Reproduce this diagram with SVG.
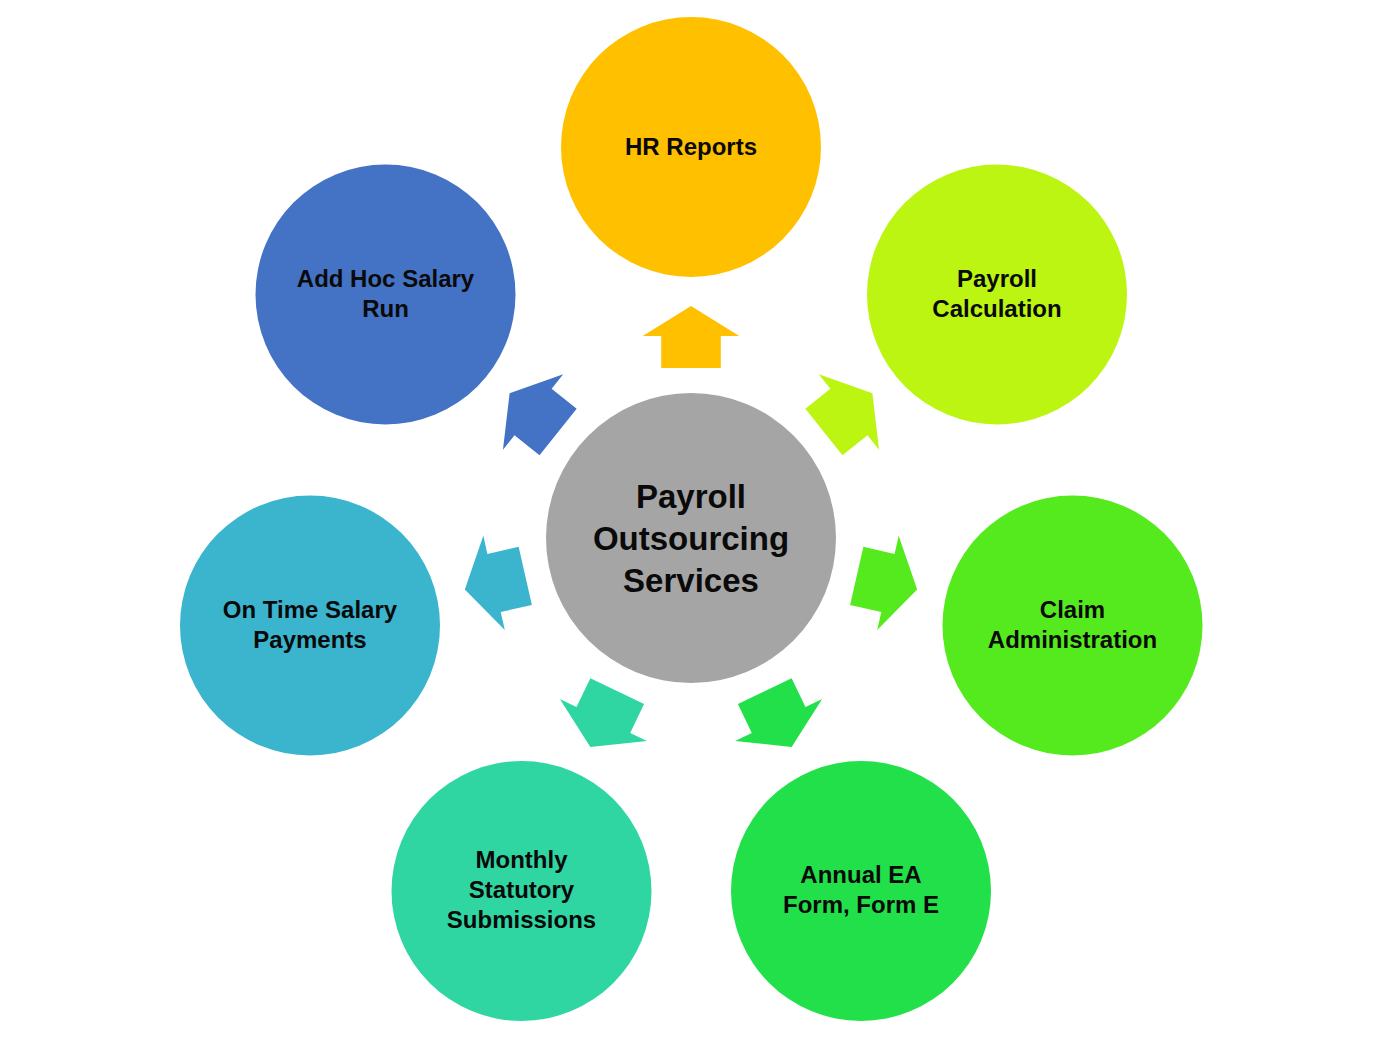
<svg xmlns="http://www.w3.org/2000/svg" width="1387" height="1040" viewBox="0 0 1387 1040">
<style>
  .lbl { font-family: "Liberation Sans", Arial, sans-serif; font-weight: bold; font-size: 24px; fill: #0a0a0a; text-anchor: middle; }
  .ctr { font-family: "Liberation Sans", Arial, sans-serif; font-weight: bold; font-size: 33px; fill: #0a0a0a; text-anchor: middle; }
</style>
<defs>
  <polygon id="arrow" points="0,-232 48.3,-202 29.8,-202 29.8,-170 -29.8,-170 -29.8,-202 -48.3,-202"/>
</defs>
<rect width="1387" height="1040" fill="#ffffff"/>
<g id="connectors">
  <use href="#arrow" transform="translate(691,538) rotate(0)" fill="#FFC000"/>
  <use href="#arrow" transform="translate(691,538) rotate(51.4286)" fill="#BBF511"/>
  <use href="#arrow" transform="translate(691,538) rotate(102.857)" fill="#55EA1E"/>
  <use href="#arrow" transform="translate(691,538) rotate(154.286)" fill="#22E04A"/>
  <use href="#arrow" transform="translate(691,538) rotate(205.714)" fill="#30D6A2"/>
  <use href="#arrow" transform="translate(691,538) rotate(257.143)" fill="#3BB4CE"/>
  <use href="#arrow" transform="translate(691,538) rotate(308.571)" fill="#4472C4"/>
</g>
<g id="center">
  <circle cx="691" cy="538" r="145" fill="#A5A5A5"/>
  <text class="ctr" x="691" y="508">Payroll</text>
  <text class="ctr" x="691" y="550">Outsourcing</text>
  <text class="ctr" x="691" y="592">Services</text>
</g>
<g id="hr-reports">
  <circle cx="691" cy="147" r="130" fill="#FFC000"/>
  <text class="lbl" x="691" y="155">HR Reports</text>
</g>
<g id="payroll-calculation">
  <circle cx="997" cy="294.5" r="130" fill="#BBF511"/>
  <text class="lbl" x="997" y="287">Payroll</text>
  <text class="lbl" x="997" y="317">Calculation</text>
</g>
<g id="claim-administration">
  <circle cx="1072.5" cy="625.5" r="130" fill="#55EA1E"/>
  <text class="lbl" x="1072.5" y="618">Claim</text>
  <text class="lbl" x="1072.5" y="648">Administration</text>
</g>
<g id="annual-ea">
  <circle cx="861" cy="891" r="130" fill="#22E04A"/>
  <text class="lbl" x="861" y="883">Annual EA</text>
  <text class="lbl" x="861" y="913">Form, Form E</text>
</g>
<g id="monthly-statutory">
  <circle cx="521.5" cy="891" r="130" fill="#30D6A2"/>
  <text class="lbl" x="521.5" y="868">Monthly</text>
  <text class="lbl" x="521.5" y="898">Statutory</text>
  <text class="lbl" x="521.5" y="928">Submissions</text>
</g>
<g id="on-time-salary">
  <circle cx="310" cy="625.5" r="130" fill="#3BB4CE"/>
  <text class="lbl" x="310" y="618">On Time Salary</text>
  <text class="lbl" x="310" y="648">Payments</text>
</g>
<g id="add-hoc-salary">
  <circle cx="385.5" cy="294.5" r="130" fill="#4472C4"/>
  <text class="lbl" x="385.5" y="287">Add Hoc Salary</text>
  <text class="lbl" x="385.5" y="317">Run</text>
</g>
</svg>
